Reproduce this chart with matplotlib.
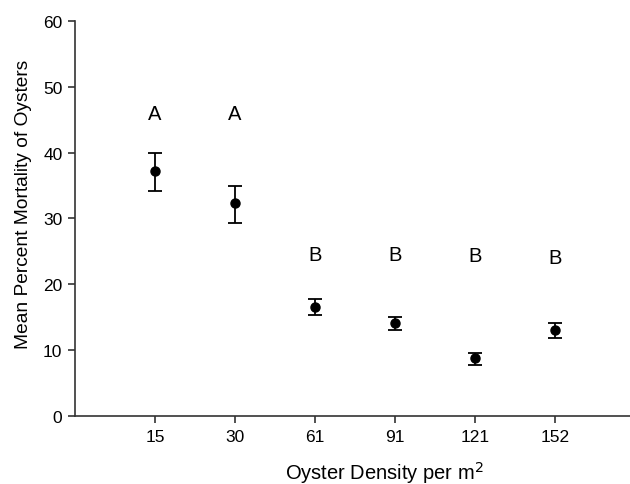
import numpy as np
import matplotlib.pyplot as plt

plt.rcParams['font.family'] = ['Liberation Sans', 'DejaVu Sans']

# --- data ---
densities = ['15', '30', '61', '91', '121', '152']
mortality = [37.2, 32.3, 16.6, 14.1, 8.8, 13.1]
err_upper = [2.8, 2.7, 1.2, 1.0, 0.8, 1.1]
err_lower = [3.0, 3.0, 1.3, 1.1, 1.0, 1.2]
letters = ['A', 'A', 'B', 'B', 'B', 'B']
letter_y = [45.9, 45.9, 24.5, 24.5, 24.4, 24.0]

fig = plt.figure(figsize=(6.3, 4.85), dpi=100)
ax = fig.add_axes([0.119, 0.140, 0.881, 0.815])

x = np.arange(len(densities))
ax.errorbar(x, mortality, yerr=[err_lower, err_upper], fmt='o', color='black',
            markersize=6.5, capsize=5, elinewidth=1.3, capthick=1.3)

for xi, lab, ly in zip(x, letters, letter_y):
    ax.text(xi, ly, lab, ha='center', va='center', fontsize=14.5)

ax.set_xlim(-1, 5.94)
ax.set_ylim(0, 60)
ax.set_yticks(np.arange(0, 61, 10))
ax.set_xticks(x)
ax.set_xticklabels(densities)

ax.spines['top'].set_visible(False)
ax.spines['right'].set_visible(False)
for s in ['left', 'bottom']:
    ax.spines[s].set_color('#333333')
    ax.spines[s].set_linewidth(1.2)
ax.tick_params(direction='out', length=5, width=1.2, labelsize=12.5, colors='#333333',
               labelcolor='black', pad=4)

ax.set_ylabel('Mean Percent Mortality of Oysters', fontsize=13.8)
ax.set_xlabel('Oyster Density per m$^2$', fontsize=14.5)
ax.yaxis.set_label_coords(-0.078, 0.537)
ax.xaxis.set_label_coords(0.557, -0.108)

fig.savefig('out.png', dpi=100)
